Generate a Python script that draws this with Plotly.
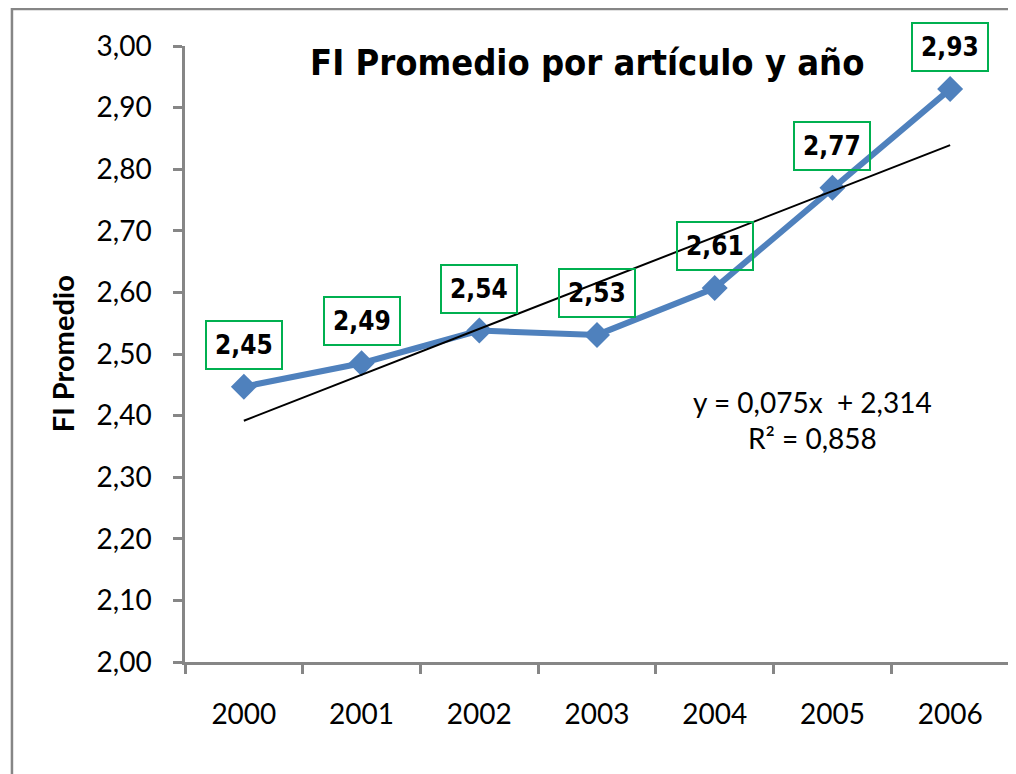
import numpy as np
import plotly.graph_objects as go

years = ['2000', '2001', '2002', '2003', '2004', '2005', '2006']
fi_promedio = [2.447, 2.485, 2.538, 2.531, 2.607, 2.770, 2.930]
value_labels = ['2,45', '2,49', '2,54', '2,53', '2,61', '2,77', '2,93']
y_ticks = [2.0, 2.1, 2.2, 2.3, 2.4, 2.5, 2.6, 2.7, 2.8, 2.9, 3.0]
y_ticktext = ['2,00', '2,10', '2,20', '2,30', '2,40', '2,50', '2,60', '2,70', '2,80', '2,90', '3,00']

# category positions
pos = np.arange(len(years))
bounds = np.arange(len(years) + 1) - 0.5

# linear trend like Excel (x = 1..n)
slope, intercept = np.polyfit(pos + 1, fi_promedio, 1)
trend = slope * (pos + 1) + intercept

blue = '#4F81BD'
green = '#00B050'
grey = '#868686'
cond = 'DejaVu Sans Condensed'

fig = go.Figure()
fig.add_trace(go.Scatter(
    x=pos, y=fi_promedio, mode='lines+markers',
    line=dict(color=blue, width=6),
    marker=dict(symbol='diamond', size=20, color=blue),
    showlegend=False, hoverinfo='skip'))
fig.add_trace(go.Scatter(
    x=pos, y=trend, mode='lines',
    line=dict(color='black', width=2),
    showlegend=False, hoverinfo='skip'))

for p, v, lab in zip(pos, fi_promedio, value_labels):
    fig.add_annotation(x=p, y=v, text='<b>' + lab + '</b>', showarrow=False,
                       xanchor='center', yanchor='middle',
                       yshift=42, font=dict(family=cond, size=26, color='black'),
                       bordercolor=green, borderwidth=2, borderpad=8)

fig.add_annotation(x=0.488, xref='paper', y=0.974, yref='paper',
                   xanchor='center', yanchor='middle',
                   text='<b>FI Promedio por artículo y año</b>', showarrow=False,
                   font=dict(family=cond, size=36, color='black'))
fig.add_annotation(x=-0.149, xref='paper', y=0.5, yref='paper',
                   xanchor='center', yanchor='middle',
                   text='<b>FI Promedio</b>', textangle=-90, showarrow=False,
                   font=dict(family='Lato', size=29, color='black'))
fig.add_annotation(x=0.761, xref='paper', y=0.393, yref='paper',
                   xanchor='center', yanchor='middle',
                   text='y = 0,075x  + 2,314<br>R² = 0,858', showarrow=False,
                   align='center', font=dict(family='Lato', size=28, color='black'))

# outer chart border
fig.add_shape(type='rect', xref='paper', yref='paper',
              x0=-0.21, x1=1.2, y0=-0.4, y1=1.06,
              line=dict(color=grey, width=2.5))

fig.update_xaxes(range=[-0.5, 6.5], tickvals=pos, ticktext=years,
                 showline=True, linecolor=grey, linewidth=2.5,
                 ticks='outside', ticklen=0, tickangle=0,
                 minor=dict(tickvals=bounds, ticks='outside', ticklen=9,
                            tickwidth=2.5, tickcolor=grey, showgrid=False),
                 showgrid=False, zeroline=False, automargin=False,
                 ticklabelstandoff=26,
                 tickfont=dict(family='Lato', size=28, color='black'))
fig.update_yaxes(range=[2.0, 3.0], tickvals=y_ticks, ticktext=y_ticktext,
                 showline=True, linecolor=grey, linewidth=2.5,
                 ticks='outside', ticklen=9, tickwidth=2.5, tickcolor=grey,
                 showgrid=False, zeroline=False, ticklabelstandoff=16,
                 automargin=False,
                 tickfont=dict(family='Lato', size=28, color='black'))

# page body has an 8px margin, so shift the plot up/left by that much
fig.update_layout(width=1016, height=774,
                  margin=dict(l=177, r=15, t=38, b=120),
                  paper_bgcolor='white', plot_bgcolor='white')

fig.write_html('out.html')
